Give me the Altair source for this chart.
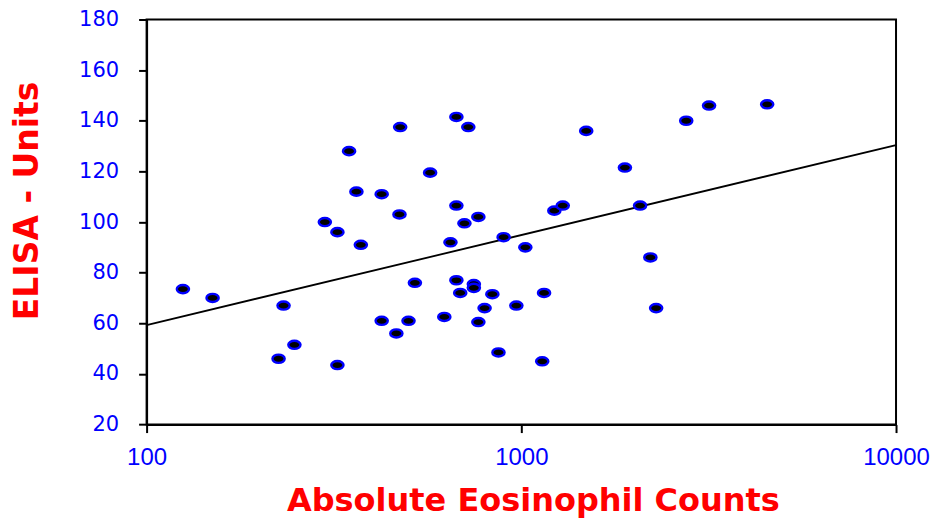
import altair as alt
import pandas as pd

# Scatter points: absolute eosinophil counts vs ELISA units
eos_counts = [125, 150, 232, 248, 225, 323, 475, 347, 363, 424, 473, 299, 323, 373,
              424, 500, 464, 520, 671, 722, 571, 1490, 1890, 671, 768, 705, 647, 897,
              1025, 1225, 1290, 2075, 671, 747, 747, 687, 837, 1150, 798, 970, 623,
              768, 869, 1137, 2755, 3170, 4530, 2210, 2290]
elisa_units = [73.5, 70, 67, 51.5, 46, 43.5, 137.5, 128, 112, 111, 103, 100, 96, 91,
               61, 61, 56, 76, 141.5, 137.5, 119.5, 136, 121.5, 106.5, 102, 99.5, 92, 94,
               90, 104.5, 106.5, 106.5, 77, 75.5, 74, 72, 71.5, 72, 66, 67, 62.5,
               60.5, 48.5, 45, 140, 146, 146.5, 86, 66]

# Regression line end points
line_x = [100, 10000]
line_y = [59.3, 130.4]

x_ticks = [100, 1000, 10000]
y_ticks = [20, 40, 60, 80, 100, 120, 140, 160, 180]

x_title = "Absolute Eosinophil Counts"
y_title = "ELISA - Units"

pts = pd.DataFrame({"x": eos_counts, "y": elisa_units})
ln = pd.DataFrame({"x": line_x, "y": line_y})

RED = "#FF0000"
BLUE = "#0000FF"

x_scale = alt.Scale(type="log", domain=[100, 10000], nice=False)
y_scale = alt.Scale(domain=[20, 180], nice=False, zero=False)

x_axis = alt.Axis(
    values=x_ticks, format="d", title=x_title,
    labelFont="Liberation Sans", labelFontSize=24, labelColor=BLUE,
    labelPadding=13, labelFlush=False,
    titleFont="DejaVu Sans", titleFontSize=32, titleFontWeight="bold",
    titleColor=RED, titleX=386.6, titleY=86, titleAlign="center",
    titleBaseline="alphabetic",
)
y_axis = alt.Axis(
    values=y_ticks, format="d", title=y_title,
    labelFont="DejaVu Sans", labelFontSize=21, labelColor=BLUE,
    labelPadding=20, labelFlush=False, labelBaseline="middle",
    titleFont="DejaVu Sans", titleFontSize=33, titleFontWeight="bold",
    titleColor=RED, titleX=-109.4, titleY=181, titleAlign="center",
    titleBaseline="alphabetic", titleAngle=270,
)

ellipse = ("M-1,0 C-1,-0.368 -0.552,-0.667 0,-0.667 C0.552,-0.667 1,-0.368 1,0 "
           "C1,0.368 0.552,0.667 0,0.667 C-0.552,0.667 -1,0.368 -1,0 Z")

line = alt.Chart(ln).mark_line(color="black", strokeWidth=1.8, clip=True).encode(
    x=alt.X("x:Q", scale=x_scale, axis=x_axis),
    y=alt.Y("y:Q", scale=y_scale, axis=y_axis),
)

points = alt.Chart(pts).mark_point(
    shape=ellipse, size=150, filled=True, fill="#000000", stroke=BLUE,
    strokeWidth=2.4, opacity=1, fillOpacity=1,
).encode(
    x=alt.X("x:Q", scale=x_scale, axis=x_axis),
    y=alt.Y("y:Q", scale=y_scale, axis=y_axis),
)

chart = alt.layer(line, points).properties(
    width=750, height=405.4,
    autosize=alt.AutoSizeParams(type="none"),
    padding={"left": 138.7, "top": 11.3, "right": 36, "bottom": 96},
).configure_view(
    stroke="black", strokeWidth=2,
).configure_axis(
    grid=False, domainColor="black", domainWidth=2,
    tickColor="black", tickWidth=2, tickSize=8,
)

chart.save("out.html", embed_options={"renderer": "svg", "actions": False})
